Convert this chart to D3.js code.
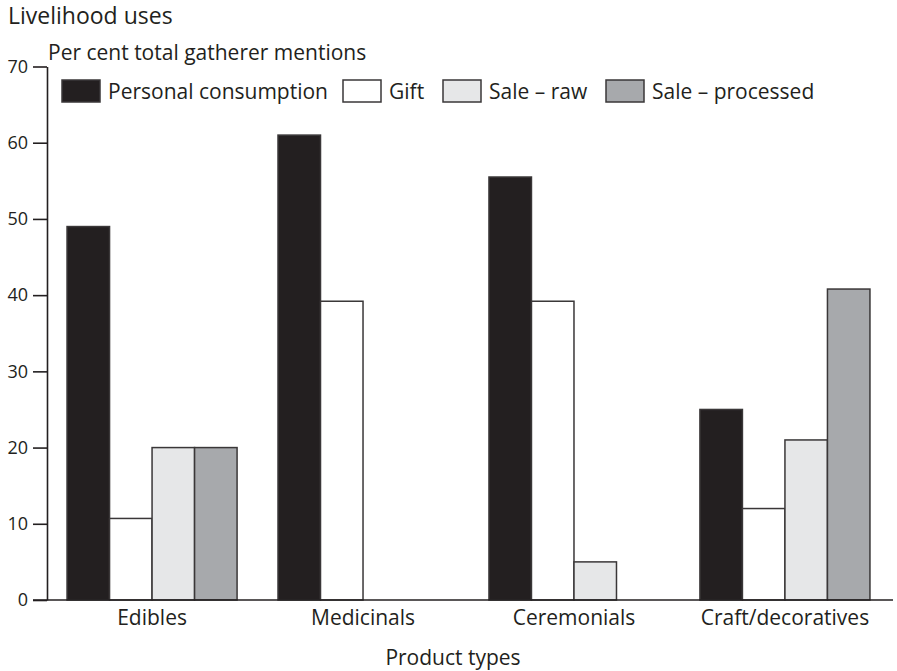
<!DOCTYPE html>
<html>
<head>
<meta charset="utf-8">
<script src="https://cdn.jsdelivr.net/npm/d3@7"></script>
<style>
  body { margin: 0; background: #fff; }
  text { font-family: "Open Sans", sans-serif; fill: #231f20; }
</style>
</head>
<body>
<svg id="chart" width="897" height="671"></svg>
<script>
const categories = ["Edibles", "Medicinals", "Ceremonials", "Craft/decoratives"];
const seriesNames = ["Personal consumption", "Gift", "Sale \u2013 raw", "Sale \u2013 processed"];
const personalConsumption = [49, 61, 55.5, 25];
const gift = [10.7, 39.2, 39.2, 12];
const saleRaw = [20, 0, 5, 21];
const saleProcessed = [20, 0, 0, 40.8];
const yTicks = [0, 10, 20, 30, 40, 50, 60, 70];
const colors = ["#231f20", "#ffffff", "#e6e7e8", "#a7a9ac"];

const seriesValues = [personalConsumption, gift, saleRaw, saleProcessed];
const rows = categories.map((c, i) => ({cat: c, vals: seriesValues.map(s => s[i])}));

const svg = d3.select("#chart");
const axisColor = "#231f20";

const y = d3.scaleLinear().domain([0, 70]).range([600, 66.5]);
const x0 = d3.scaleBand().domain(categories).range([47, 890]).paddingInner(0.194).paddingOuter(0.095);
const x1 = d3.scaleBand().domain(d3.range(seriesNames.length)).range([0, x0.bandwidth()]);

// Titles
svg.append("text").attr("x", 8).attr("y", 24).style("font-size", "23px").text("Livelihood uses");
svg.append("text").attr("x", 48).attr("y", 60).style("font-size", "21px").text("Per cent total gatherer mentions");

// Bars
const g = svg.append("g");
rows.forEach(r => {
  r.vals.forEach((v, i) => {
    if (v <= 0) return;
    g.append("rect")
      .attr("x", x0(r.cat) + x1(i))
      .attr("y", y(v))
      .attr("width", x1.bandwidth())
      .attr("height", y(0) - y(v))
      .attr("fill", colors[i])
      .attr("stroke", "#3a3738")
      .attr("stroke-width", 1.5);
  });
});

// Y axis
const yAxis = d3.axisLeft(y).tickValues(yTicks).tickSize(14).tickPadding(5).tickSizeOuter(0);
const ya = svg.append("g").attr("transform", "translate(47,0)").call(yAxis);
ya.select(".domain").attr("stroke", axisColor).attr("stroke-width", 1.6);
ya.selectAll(".tick line").attr("stroke", axisColor).attr("stroke-width", 1.6);
ya.selectAll(".tick text").style("font-size", "18px").style("font-family", "Open Sans, sans-serif").attr("fill", "#231f20");

// X axis
const xa = svg.append("g").attr("transform", "translate(0,600)")
  .call(d3.axisBottom(x0).tickSize(0).tickPadding(10));
xa.select(".domain").remove();
xa.selectAll(".tick text").style("font-size", "21px").style("font-family", "Open Sans, sans-serif").attr("fill", "#231f20");
svg.append("line").attr("x1", 33).attr("x2", 893).attr("y1", y(0)).attr("y2", y(0))
  .attr("stroke", axisColor).attr("stroke-width", 1.6);

svg.append("text").attr("x", 453).attr("y", 665).attr("text-anchor", "middle").style("font-size", "21px").text("Product types");

// Legend
const legendX = [62, 343, 443, 606];
const leg = svg.append("g");
seriesNames.forEach((n, i) => {
  leg.append("rect").attr("x", legendX[i]).attr("y", 80).attr("width", 38).attr("height", 22)
    .attr("fill", colors[i]).attr("stroke", "#3a3738").attr("stroke-width", 1.5);
  leg.append("text").attr("x", legendX[i] + 46).attr("y", 99).style("font-size", "21px").text(n);
});
</script>
</body>
</html>
